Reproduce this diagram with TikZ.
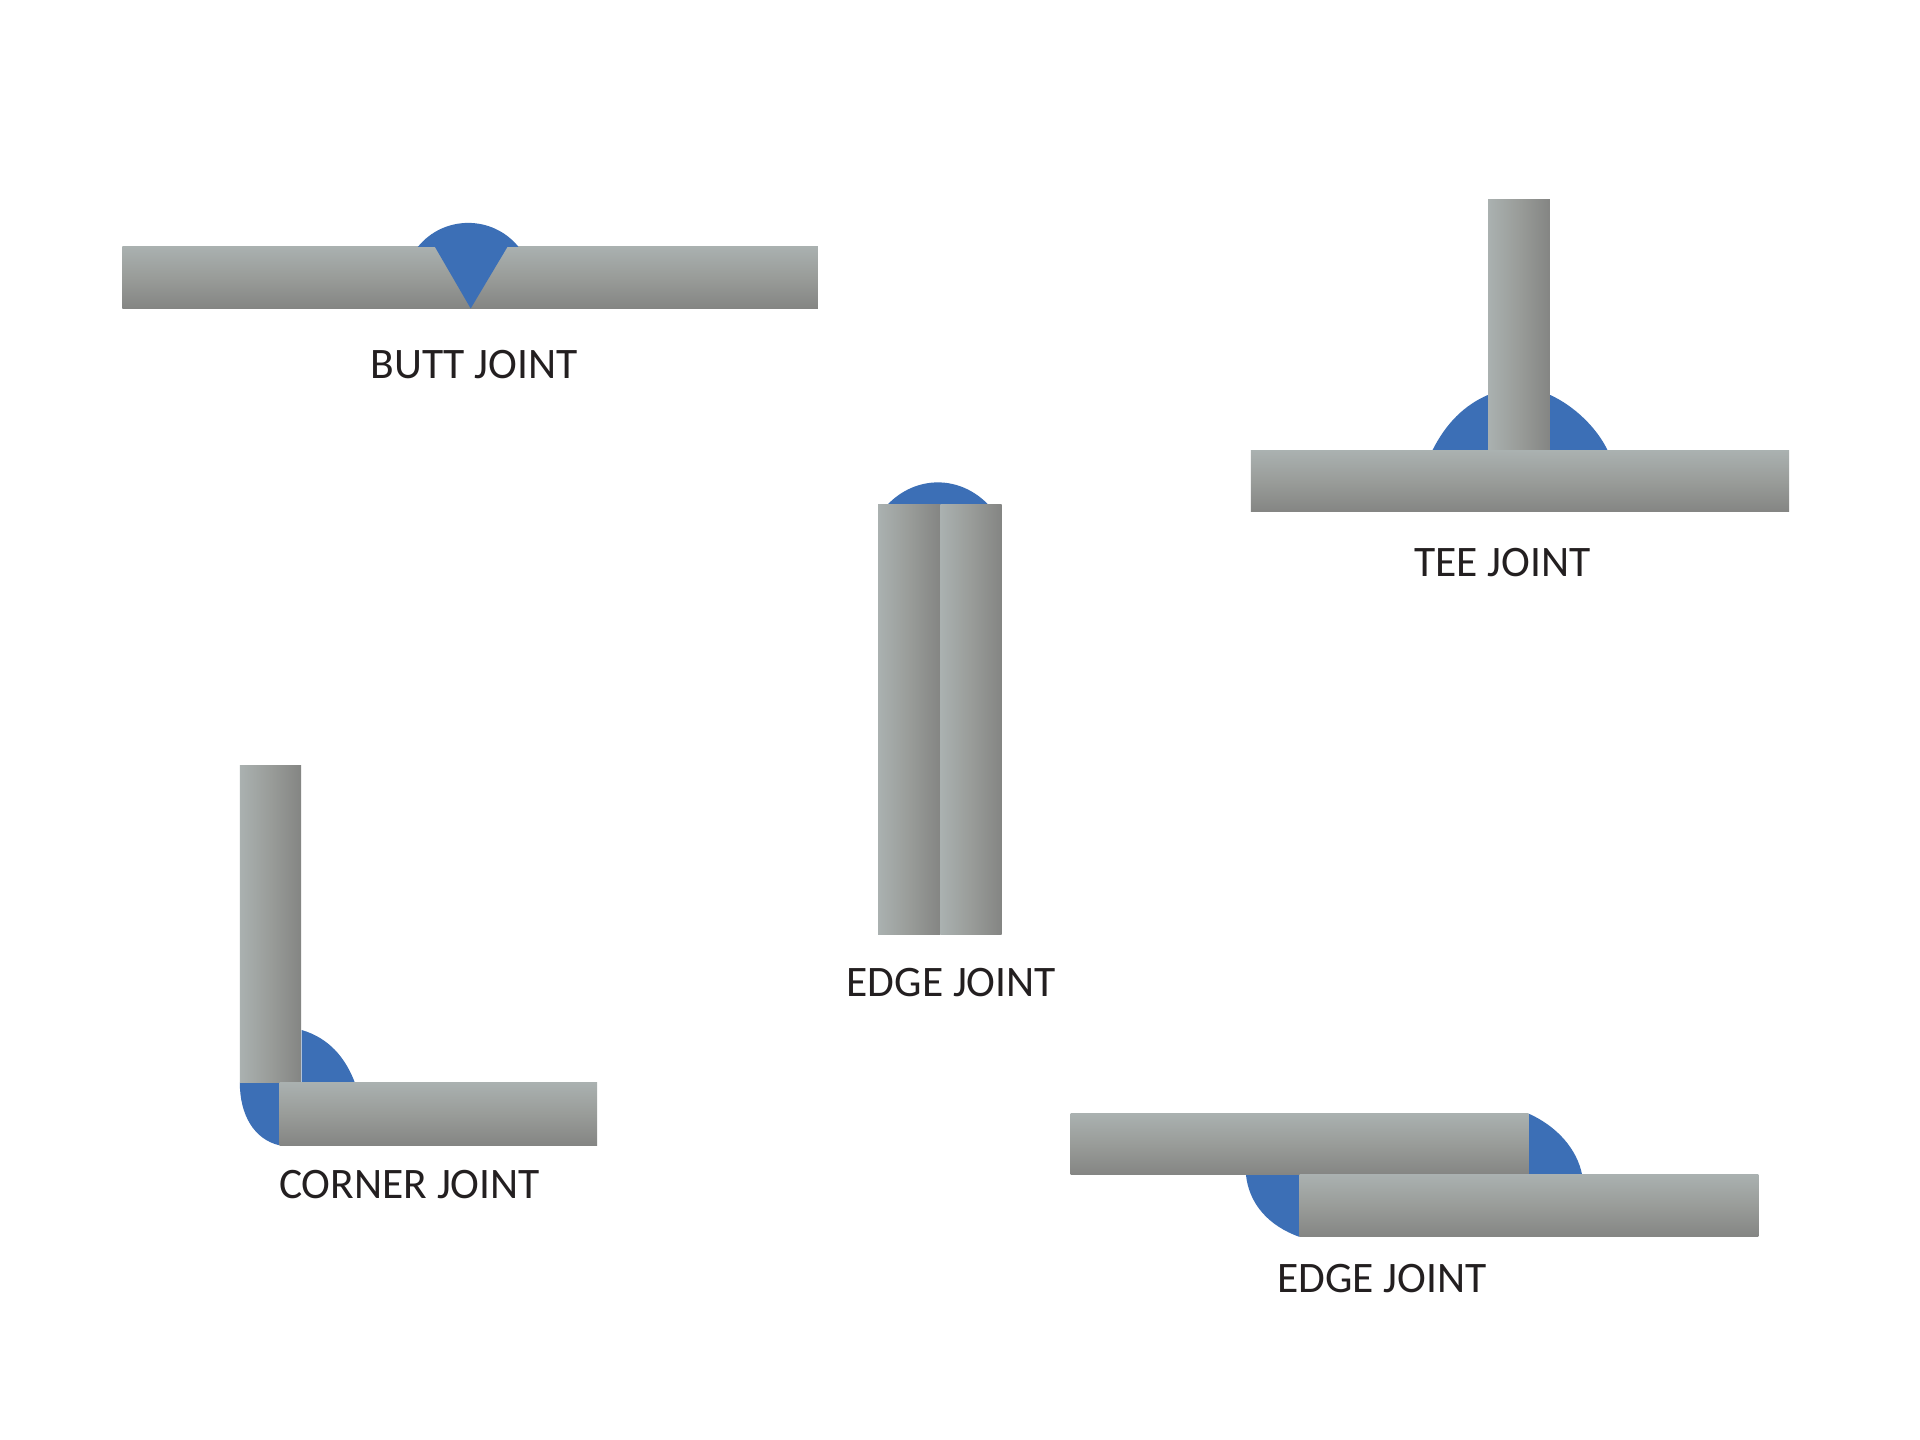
\documentclass[tikz,border=0pt]{standalone}
\usepackage{fontspec}
\setmainfont{Carlito}
\definecolor{weld}{HTML}{3C6FB6}
\definecolor{steelA}{HTML}{AAB1B0}
\definecolor{steelB}{HTML}{999C99}
\definecolor{steelC}{HTML}{848583}
\definecolor{ink}{HTML}{231F20}
\tikzset{
  hbar/.style={top color=steelA,bottom color=steelC,middle color=steelB,draw=none},
  vbar/.style={left color=steelA,right color=steelC,middle color=steelB,draw=none},
  weldfill/.style={fill=weld,draw=none},
  jointlabel/.style={text=ink,inner sep=0pt,anchor=center,font=\fontsize{43.5}{43.5}\selectfont}
}
\begin{document}
\begin{tikzpicture}[x=0.9951pt,y=-0.9951pt]
\path[use as bounding box,fill=white] (0,0) rectangle (1929.45,1447.09);
% butt joint
\path[hbar] (123,247.5) rectangle (473,310);
\path[hbar] (472,247.5) rectangle (822,310);
\path[weldfill] (420,248) .. controls (446,216) and (495,216) .. (521,248) -- (510,248) -- (473,310) -- (437,248) -- cycle;
\node[jointlabel] (butt) at (476.5,366) {BUTT JOINT};
% tee joint
\path[weldfill] (1439,453.5) .. controls (1453,425) and (1472,407) .. (1495,397) -- (1558,397) .. controls (1582,408) and (1605,430) .. (1616,453.5) -- cycle;
\path[vbar] (1495.5,200) rectangle (1557.5,453.5);
\path[hbar] (1257,453) rectangle (1798,514.5);
\node[jointlabel] (tee) at (1510,565.5) {TEE JOINT};
% edge joint (centre)
\path[weldfill] (891,508) .. controls (920,477) and (965,477) .. (994,508) -- cycle;
\path[vbar] (882.5,507) rectangle (945,939);
\path[vbar] (945,507) rectangle (1006.5,939);
\node[jointlabel] (edgeA) at (956,987.5) {EDGE JOINT};
% corner joint
\path[weldfill] (303,1035) .. controls (330,1043) and (347,1062) .. (357,1089) -- (303,1089) -- cycle;
\path[weldfill] (241,1088) .. controls (241,1120) and (255,1145) .. (281,1151) -- (281,1088) -- cycle;
\path[vbar] (241,769) rectangle (302.5,1088);
\path[hbar] (281,1088) rectangle (600,1151);
\node[jointlabel] (corner) at (411.5,1190.5) {CORNER JOINT};
% lap joint
\path[weldfill] (1536,1119) .. controls (1565,1132) and (1585,1155) .. (1590,1181) -- (1536,1181) -- cycle;
\path[weldfill] (1252,1180) .. controls (1255,1210) and (1275,1232) .. (1306,1243) -- (1306,1180) -- cycle;
\path[hbar] (1076,1119) rectangle (1536,1180.5);
\path[hbar] (1306,1180.5) rectangle (1767,1243);
\node[jointlabel] (edgeB) at (1389,1284.5) {EDGE JOINT};
\end{tikzpicture}
\end{document}
